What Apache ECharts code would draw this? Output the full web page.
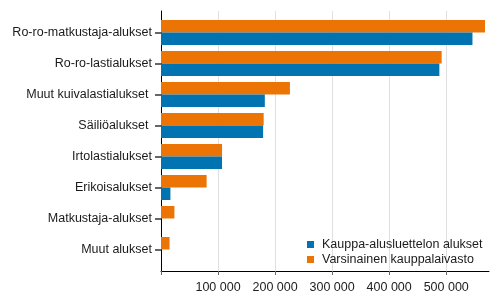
<!DOCTYPE html>
<html>
<head>
<meta charset="utf-8">
<script src="https://cdn.jsdelivr.net/npm/echarts@6/dist/echarts.min.js"></script>
<style>html,body{margin:0;padding:0;background:#fff}#c{width:500px;height:308px}</style>
</head>
<body>
<div id="c"></div>
<script>
const categories = ["Ro-ro-matkustaja-alukset", "Ro-ro-lastialukset", "Muut kuivalastialukset ", "Säiliöalukset ", "Irtolastialukset", "Erikoisalukset", "Matkustaja-alukset", "Muut alukset"];
const seriesNames = ["Kauppa-alusluettelon alukset", "Varsinainen kauppalaivasto"];
const kauppaAlusluettelo = [546000, 488000, 182000, 179000, 107000, 16500, 0, 0];
const varsinainen = [568000, 492000, 226000, 180000, 107000, 80000, 23500, 15000];
const xTicks = [0, 100000, 200000, 300000, 400000, 500000];
const xMax = 575000;

const font = "'Liberation Sans', Arial, sans-serif";
const fs = 12.5;
const fmt = v => v === 0 ? '' : String(v).replace(/\B(?=(\d{3})+(?!\d))/g, ' ');

const chart = echarts.init(document.getElementById('c'), null, {renderer: 'canvas'});
chart.setOption({
  animation: false,
  textStyle: {fontFamily: font},
  grid: [
    {left: 161, right: 11, top: 17, bottom: 43},
    {left: 161, right: 11, top: 11, bottom: 37}
  ],
  xAxis: [
    {gridIndex: 0, type: 'value', min: 0, max: xMax, interval: 100000,
     axisLine: {show: false}, axisTick: {show: false}, axisLabel: {show: false}, splitLine: {show: false}},
    {gridIndex: 1, type: 'value', min: 0, max: xMax, interval: 100000,
     axisLine: {show: true, lineStyle: {color: '#000', width: 1}},
     axisTick: {show: true, length: 4, lineStyle: {color: '#666'}},
     axisLabel: {show: true, showMaxLabel: false, margin: 10, color: '#222', fontSize: fs, fontFamily: font,
       formatter: v => xTicks.includes(v) ? fmt(v) : ''},
     splitLine: {show: true, showMinLine: false, showMaxLine: false, lineStyle: {color: '#e0e0e0', width: 1}}}
  ],
  yAxis: [
    {gridIndex: 0, type: 'category', data: categories, inverse: true,
     axisLine: {show: false},
     axisTick: {show: true, alignWithLabel: true, length: 6, lineStyle: {color: '#666', width: 2}},
     axisLabel: {margin: 9, color: '#1a1a1a', fontSize: fs, fontFamily: font}},
    {gridIndex: 1, type: 'value', min: 0, max: 1,
     axisLine: {show: true, lineStyle: {color: '#000', width: 1}},
     axisTick: {show: false}, axisLabel: {show: false}, splitLine: {show: false}}
  ],
  legend: {
    orient: 'vertical', left: 302, top: 233, itemWidth: 7, itemHeight: 7, itemGap: 2,
    icon: 'rect',
    textStyle: {fontSize: fs, color: '#1a1a1a', fontFamily: font, padding: [0, 0, 0, 3]},
    data: seriesNames
  },
  series: [
    {name: seriesNames[1], type: 'bar', xAxisIndex: 0, yAxisIndex: 0, data: varsinainen,
     barWidth: 12.5, barGap: '0%', itemStyle: {color: '#ec7404'}},
    {name: seriesNames[0], type: 'bar', xAxisIndex: 0, yAxisIndex: 0, data: kauppaAlusluettelo,
     barWidth: 12.5, barGap: '0%', itemStyle: {color: '#0073b0'}}
  ]
});
</script>
</body>
</html>
